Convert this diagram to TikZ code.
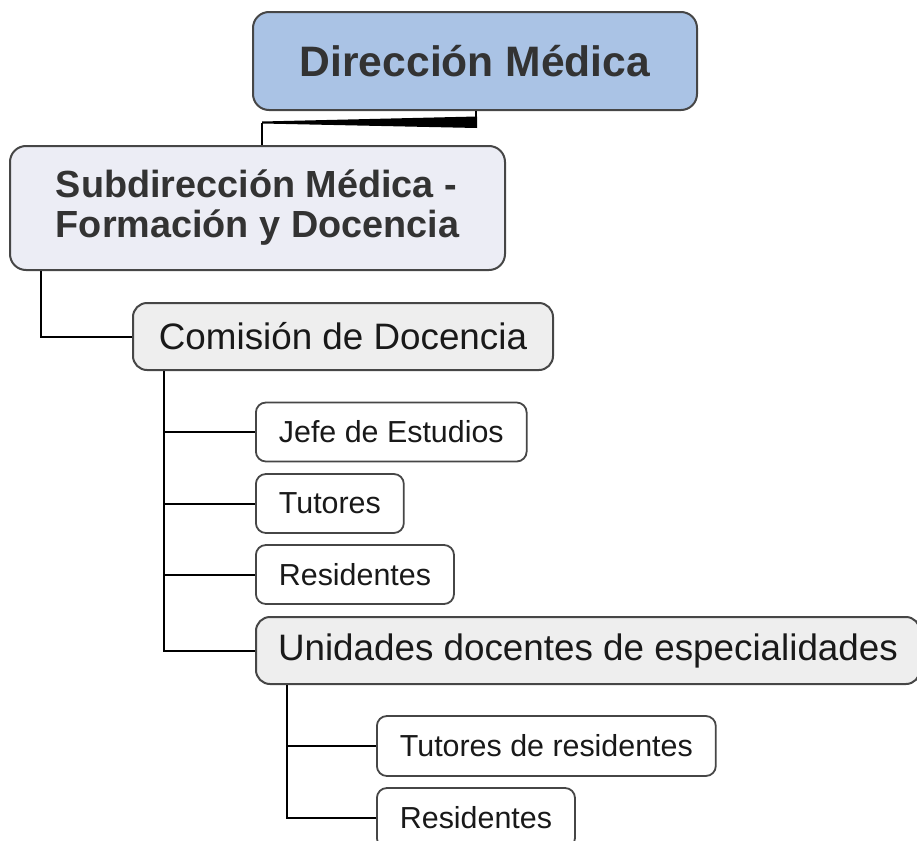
\documentclass[tikz,border=0pt]{standalone}
\usepackage{fontspec}
\setmainfont{Liberation Sans}
\definecolor{dirblue}{RGB}{170,195,229}
\definecolor{subfill}{RGB}{236,237,245}
\definecolor{grayfill}{RGB}{238,238,238}
\definecolor{boxline}{RGB}{70,70,70}
\definecolor{txtdark}{RGB}{51,51,51}
\definecolor{txtblack}{RGB}{25,25,25}
\tikzset{
  bigbox/.style={draw=boxline, line width=1pt, rounded corners=8pt, inner sep=0pt, text=txtdark},
  midbox/.style={draw=boxline, line width=1pt, rounded corners=7pt, fill=grayfill, inner ysep=0pt,
    minimum height=33.5pt, text=txtblack, font=\fontsize{18.4pt}{20pt}\selectfont},
  leafbox/.style={draw=boxline, line width=0.9pt, rounded corners=5pt, fill=white, inner ysep=0pt,
    inner xsep=11.5pt, minimum height=29.5pt, anchor=west, text=txtblack, font=\fontsize{15.2pt}{17pt}\selectfont},
  link/.style={line width=1pt, black}
}
\begin{document}
\begin{tikzpicture}[x=0.5pt,y=0.5pt,yscale=-1,xscale=1]
\useasboundingbox (0,0) rectangle (917,841);
%Shape: Rounded Rect
\node [bigbox, fill=dirblue, minimum width=222pt, minimum height=49pt,
  font=\fontsize{21.3pt}{24pt}\selectfont\bfseries] (dir) at (475,61) {Dirección Médica};
%Shape: Rounded Rect
\node [bigbox, fill=subfill, minimum width=247.5pt, minimum height=62pt, align=left,
  font=\fontsize{18.9pt}{20pt}\selectfont\bfseries] (sub) at (257.5,208) {Subdirección Médica -\\Formación y Docencia};
%Shape: Rounded Rect
\node [midbox, minimum width=210pt] (com) at (343,336.5) {Comisión de Docencia};
%Shape: Rounded Rect
\node [leafbox] (jefe) at (255,432) {Jefe de Estudios};
\node [leafbox] (tut) at (255,503.5) {Tutores};
\node [leafbox] (res) at (255,574.5) {Residentes};
%Shape: Rounded Rect
\node [midbox, anchor=west, inner xsep=11pt] (uni) at (255,650.5) {Unidades docentes de especialidades};
%Shape: Rounded Rect
\node [leafbox, minimum height=30pt] (tutres) at (376,746) {Tutores de residentes};
\node [leafbox, minimum height=30pt] (resuni) at (376,818) {Residentes};
%Straight Lines
\coordinate (wedgeL) at (262,122.5);
\coordinate (wedgeR) at (476,117);
\draw [link] (wedgeR |- dir.south) -- (wedgeR);
\fill [black] (262,121.5) -- (477,116.5) -- (477,128) -- (262,123.5) -- cycle;
\draw [link] (wedgeL) -- (wedgeL |- sub.north);
%Straight Lines
\draw [link] (sub.south west) ++(32,0) |- (com.west);
%Straight Lines
\foreach \kid in {jefe,tut,res,uni}
  \draw [link] (com.south west) ++(32,0) |- (\kid.west);
%Straight Lines
\foreach \kid in {tutres,resuni}
  \draw [link] (uni.south west) ++(32,0) |- (\kid.west);
\end{tikzpicture}
\end{document}
